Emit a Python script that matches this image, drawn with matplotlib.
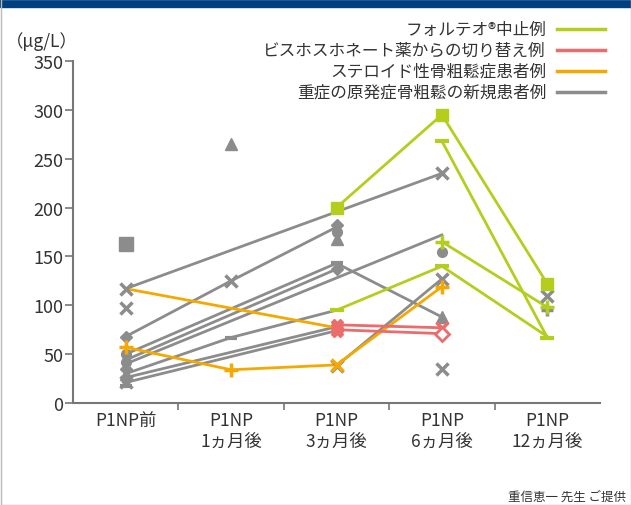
import matplotlib
matplotlib.use('Agg')
import matplotlib.pyplot as plt
from matplotlib.lines import Line2D
from matplotlib.patches import Rectangle

plt.rcParams['font.family'] = ['Noto Sans CJK JP', 'DejaVu Sans']

# categories
cats = ['P1NP前', 'P1NP\n1ヵ月後', 'P1NP\n3ヵ月後', 'P1NP\n6ヵ月後', 'P1NP\n12ヵ月後']

# legend labels
labels = ['フォルテオ®中止例', 'ビスホスホネート薬からの切り替え例',
          'ステロイド性骨粗鬆症患者例', '重症の原発症骨粗鬆の新規患者例']

GREEN = '#b5cd1c'
RED = '#ec6b6b'
ORANGE = '#f5a900'
GRAY = '#8c8c8c'

# each patient line: (category index list, value list)
gray_lines = [
    ([0, 3], [117, 235]),
    ([0, 1, 2], [68, 125, 180]),
    ([0, 2, 3], [50, 143, 88]),
    ([0, 2], [44, 137]),
    ([0, 3], [40, 172]),
    ([0, 1, 2], [30, 67, 95]),
    ([0, 2], [26, 78]),
    ([0, 2], [21, 74]),
    ([2, 3], [38, 127]),
]
green_lines = [
    ([2, 3, 4], [200, 295, 122]),
    ([3, 4], [268, 67]),
    ([3, 4], [165, 98]),
    ([2, 3, 4], [95, 140, 68]),
]
red_lines = [
    ([2, 3], [80, 77]),
    ([2, 3], [75, 71]),
]
orange_lines = [
    ([0, 2], [117, 77]),
    ([0, 1, 2, 3], [57, 34, 39, 119]),
]

# markers: (category index list, value list)
gray_sq = ([0], [163])
gray_x = ([0, 0, 1, 3, 3, 2, 3, 4, 0], [117, 97, 125, 235, 127, 38, 35, 110, 21])
gray_tri = ([1, 2, 3, 0], [265, 168, 88, 30])
gray_dia = ([0, 2, 2, 0], [68, 182, 137, 35])
gray_circ = ([0, 3, 2, 0, 0], [50, 155, 175, 42, 25])
gray_dash = ([0, 1, 2], [17, 67, 143])
gray_plus = ([4], [95])
green_sq = ([2, 3, 4], [200, 295, 122])
green_dash = ([3, 3, 4, 2], [268, 140, 67, 95])
green_plus = ([3, 4], [165, 98])
red_fill = ([2, 2, 2], [80, 77, 74])
red_x = ([3], [77])
red_open = ([3], [71])
orange_plus = ([0, 1, 3], [57, 34, 119])
orange_x = ([2], [39])

fig = plt.figure(figsize=(6.31, 5.06), dpi=100)
ax = fig.add_axes([73 / 631, 1 - 404 / 506, 527 / 631, 342 / 506])

for xs, ys in gray_lines:
    ax.plot(xs, ys, color=GRAY, lw=2, zorder=2)
for xs, ys in orange_lines:
    ax.plot(xs, ys, color=ORANGE, lw=2, zorder=3)
for xs, ys in red_lines:
    ax.plot(xs, ys, color=RED, lw=2, zorder=3)
for xs, ys in green_lines:
    ax.plot(xs, ys, color=GREEN, lw=2, zorder=3)

ax.plot(*gray_sq, 's', color=GRAY, ms=10, zorder=4)
ax.plot(*gray_x, 'x', color=GRAY, ms=8, mew=2.5, zorder=4)
ax.plot(*gray_tri, '^', color=GRAY, ms=9, zorder=4)
ax.plot(*gray_dia, 'D', color=GRAY, ms=6, zorder=4)
ax.plot(*gray_circ, 'o', color=GRAY, ms=7, zorder=4)
ax.plot(*gray_dash, '_', color=GRAY, ms=9, mew=3, zorder=4)
ax.plot(*gray_plus, '+', color=GRAY, ms=9, mew=2.5, zorder=4)
ax.plot(*green_sq, 's', color=GREEN, ms=9, zorder=5)
ax.plot(*green_dash, '_', color=GREEN, ms=10, mew=3, zorder=5)
ax.plot(*green_plus, '+', color=GREEN, ms=10, mew=2.5, zorder=5)
ax.plot(*red_fill, 'X', color=RED, ms=9, zorder=5)
ax.plot(*red_x, 'x', color=RED, ms=8, mew=2.5, zorder=5)
ax.plot(*red_open, 'D', mfc='white', mec=RED, mew=2, ms=7, zorder=5)
ax.plot(*orange_plus, '+', color=ORANGE, ms=10, mew=2.5, zorder=5)
ax.plot(*orange_x, 'x', color=ORANGE, ms=8, mew=2.5, zorder=5)

ax.set_xlim(-0.5, 4.5)
ax.set_ylim(0, 350)
ax.set_yticks(range(0, 351, 50))
ax.set_xticks(range(len(cats)))
ax.set_xticklabels(cats, fontsize=12.5, color='#333333', linespacing=1.2)
ax.set_xticks([0.5, 1.5, 2.5, 3.5], minor=True)
ax.tick_params(axis='x', which='major', length=0, pad=6)
ax.tick_params(axis='x', which='minor', length=5, width=1.2, color='#777777', direction='out')
ax.tick_params(axis='y', length=6, width=1.2, color='#777777', labelsize=13,
               labelcolor='#333333', pad=1)
for s in ['top', 'right']:
    ax.spines[s].set_visible(False)
for s in ['left', 'bottom']:
    ax.spines[s].set_color('#777777')
    ax.spines[s].set_linewidth(1.5)

fig.text(78 / 631, 1 - 42 / 506, '（μg/L）', fontsize=12.5, color='#333333',
         ha='right', va='center')

# legend, drawn manually: text right aligned with a line sample to its right
colors = [GREEN, RED, ORANGE, GRAY]
for i, (lab, c) in enumerate(zip(labels, colors)):
    yy = 1 - (30 + 21 * i) / 506
    fig.text(546 / 631, yy, lab, fontsize=12, color='#333333', ha='right', va='center')
    fig.add_artist(Line2D([557 / 631, 605 / 631], [yy, yy], color=c, lw=2.5,
                          transform=fig.transFigure))

fig.text(626 / 631, 1 - 497 / 506, '重信恵一 先生 ご提供', fontsize=9, color='#333333',
         ha='right', va='center')

# navy band on top and thin frame
fig.add_artist(Rectangle((0, 1 - 8 / 506), 1, 8 / 506, color='#003f80',
                         transform=fig.transFigure))
fig.add_artist(Rectangle((0.5 / 631, 0), 630 / 631, 1, fill=False, ec='#bbbbbb', lw=1,
                         transform=fig.transFigure))

fig.savefig('out.png', dpi=100)
